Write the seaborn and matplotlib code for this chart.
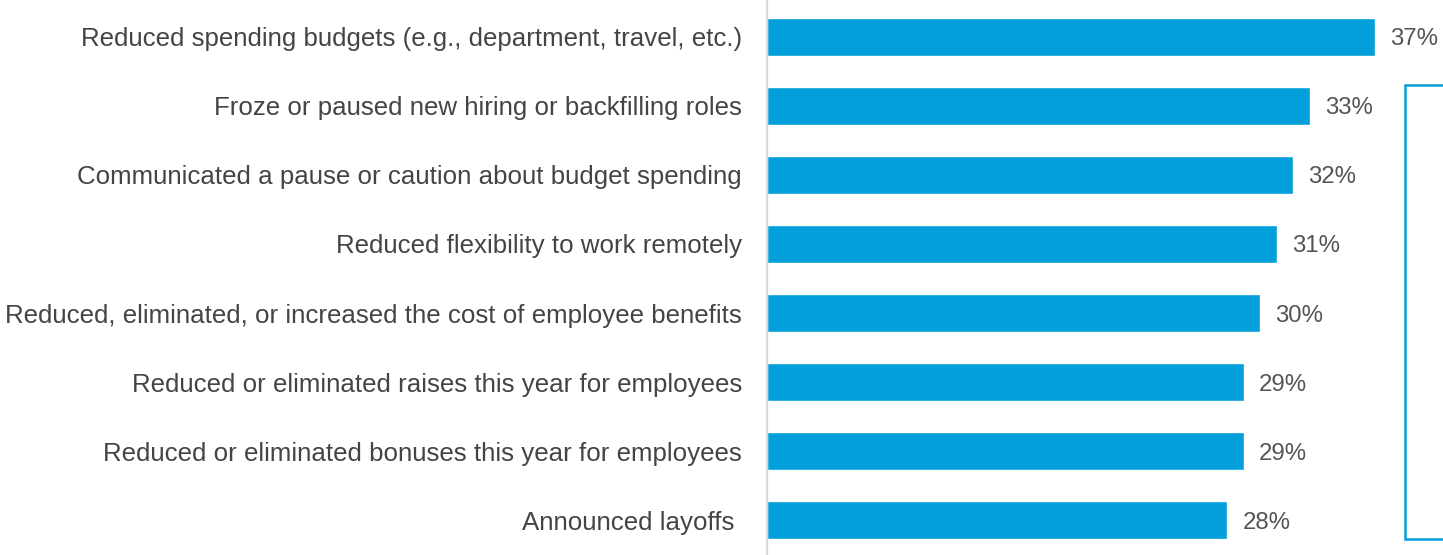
import matplotlib
matplotlib.use("Agg")
import matplotlib.pyplot as plt
import seaborn as sns
import pandas as pd

actions = [
    "Reduced spending budgets (e.g., department, travel, etc.)",
    "Froze or paused new hiring or backfilling roles",
    "Communicated a pause or caution about budget spending",
    "Reduced flexibility to work remotely",
    "Reduced, eliminated, or increased the cost of employee benefits",
    "Reduced or eliminated raises this year for employees",
    "Reduced or eliminated bonuses this year for employees",
    "Announced layoffs ",
]
shares = [37, 33, 32, 31, 30, 29, 29, 28]

df = pd.DataFrame({"action": actions, "share": shares})

sns.set_theme(style="white")
plt.rcParams["font.family"] = ["Liberation Sans", "DejaVu Sans"]

W, H = 1443, 555
fig = plt.figure(figsize=(W / 100, H / 100), dpi=100)
ax = fig.add_axes([767 / W, 0, 1 - 767 / W, 1])

bar_color = "#029FDA"
sns.barplot(data=df, y="action", x="share", orient="h", color=bar_color,
            width=0.55, saturation=1, ax=ax)

px_per_unit = 16.44
ax.set_xlim(0, (W - 767) / px_per_unit)
ax.set_ylim(7.507, -0.536)

value_labels = ax.bar_label(ax.containers[0], labels=[f"{v}%" for v in shares],
                            padding=11, fontsize=17.3, color="#555555")
for t in value_labels:
    t.set_va("center_baseline")

ax.set_xlabel("")
ax.set_ylabel("")
ax.set_xticks([])
ax.tick_params(axis="y", length=0, pad=18, labelsize=18.6, labelcolor="#444444")

for side in ["top", "right", "bottom"]:
    ax.spines[side].set_visible(False)
ax.spines["left"].set_color("#d9d9d9")
ax.spines["left"].set_linewidth(1.6)

# bracket grouping the remaining seven actions
bx = 38.8
ax.plot([ax.get_xlim()[1] + 1, bx, bx, ax.get_xlim()[1] + 1],
        [1 - 0.30, 1 - 0.30, 7 + 0.275, 7 + 0.275],
        color=bar_color, lw=1.8, clip_on=False, solid_joinstyle="miter")

fig.savefig("out.png", dpi=100)
